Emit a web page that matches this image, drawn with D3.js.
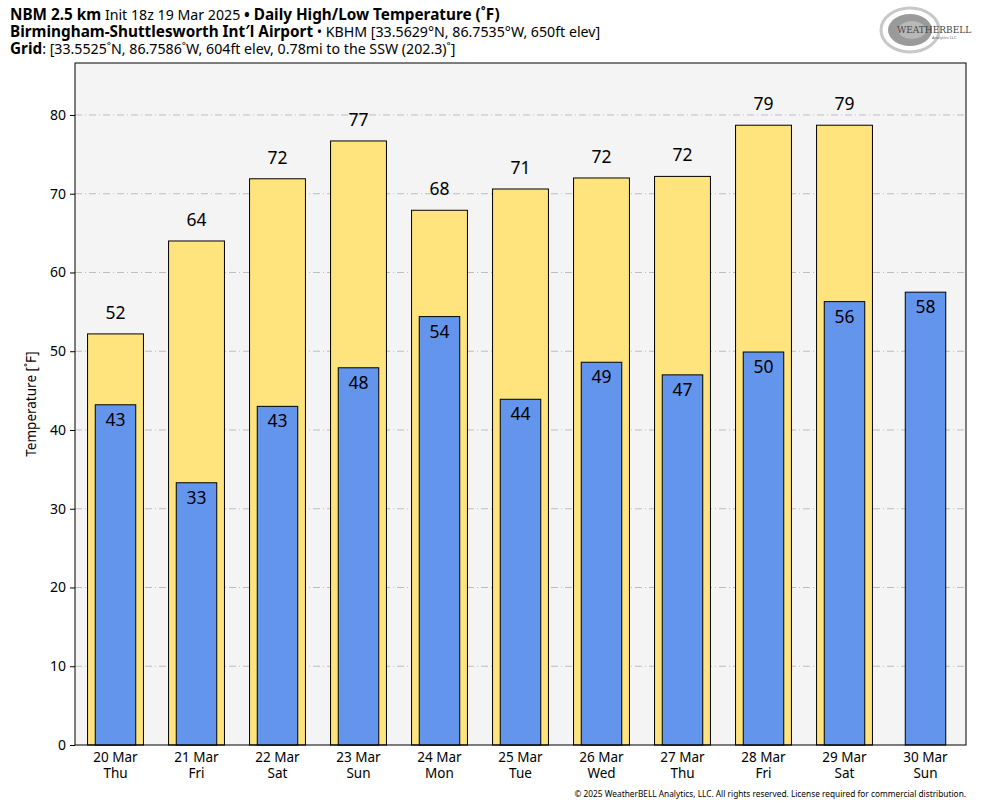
<!DOCTYPE html>
<html><head><meta charset="utf-8">
<script src="https://cdn.jsdelivr.net/npm/d3@7"></script>
<style>body{margin:0;background:#fff;} svg{display:block;font-family:"Noto Sans",sans-serif;}</style>
</head><body>
<script>
const dates = ["20 Mar","21 Mar","22 Mar","23 Mar","24 Mar","25 Mar","26 Mar","27 Mar","28 Mar","29 Mar","30 Mar"];
const days = ["Thu","Fri","Sat","Sun","Mon","Tue","Wed","Thu","Fri","Sat","Sun"];
const highs = [52.2, 64.0, 71.9, 76.7, 67.9, 70.6, 72.0, 72.2, 78.7, 78.7, null];
const lows = [43.2, 33.3, 43.0, 47.9, 54.4, 43.9, 48.6, 47.0, 49.9, 56.3, 57.5];
const yTicks = [0,10,20,30,40,50,60,70,80];

const W = 984, H = 808;
const m = {l:75, r:18, t:63, b:63};
const svg = d3.select("body").append("svg").attr("width",W).attr("height",H);

const x = d3.scaleBand().domain(d3.range(dates.length)).range([m.l, W-m.r]);
const y = d3.scaleLinear().domain([0, 86.6]).range([H-m.b, m.t]);

svg.append("rect").attr("x",m.l).attr("y",m.t).attr("width",W-m.l-m.r).attr("height",H-m.t-m.b).attr("fill","#f4f4f4");

// grid
svg.append("g").selectAll("line").data(yTicks.filter(d=>d>0)).join("line")
  .attr("x1",m.l).attr("x2",W-m.r).attr("y1",d=>y(d)).attr("y2",d=>y(d))
  .attr("stroke","#bdbdbd").attr("stroke-width",1).attr("stroke-dasharray","7,3,1,3");

const bw = x.bandwidth();
const hw = bw*0.69, lw = bw*0.5;
const hiData = highs.map((v,i)=>({v,i})).filter(d=>d.v!=null);
svg.append("g").selectAll("rect").data(hiData).join("rect")
  .attr("x",d=>x(d.i)+(bw-hw)/2).attr("width",hw)
  .attr("y",d=>y(d.v)).attr("height",d=>y(0)-y(d.v))
  .attr("fill","#ffe47e").attr("stroke","#000").attr("stroke-width",1);
svg.append("g").selectAll("text").data(hiData).join("text")
  .attr("x",d=>x(d.i)+bw/2).attr("y",d=>y(d.v)-15)
  .attr("text-anchor","middle").attr("font-size",17.5).attr("fill","#000")
  .text(d=>Math.round(d.v));

const loData = lows.map((v,i)=>({v,i}));
svg.append("g").selectAll("rect").data(loData).join("rect")
  .attr("x",d=>x(d.i)+(bw-lw)/2).attr("width",lw)
  .attr("y",d=>y(d.v)).attr("height",d=>y(0)-y(d.v))
  .attr("fill","#6495ed").attr("stroke","#000").attr("stroke-width",1);
svg.append("g").selectAll("text").data(loData).join("text")
  .attr("x",d=>x(d.i)+bw/2).attr("y",d=>y(d.v)+21)
  .attr("text-anchor","middle").attr("font-size",17.5).attr("fill","#000")
  .text(d=>Math.round(d.v));

// frame
svg.append("rect").attr("x",m.l).attr("y",m.t).attr("width",W-m.l-m.r).attr("height",H-m.t-m.b)
  .attr("fill","none").attr("stroke","#000").attr("stroke-width",1);

// y axis
const ya = svg.append("g").attr("transform",`translate(${m.l},0)`)
  .call(d3.axisLeft(y).tickValues(yTicks).tickSize(5).tickPadding(4));
ya.select(".domain").remove();
ya.selectAll("text").attr("font-size",14).attr("font-family","Noto Sans").attr("fill","#000");
ya.selectAll("line").attr("stroke","#000");

svg.append("text").attr("transform",`translate(36,${(m.t+H-m.b)/2}) rotate(-90)`)
  .attr("text-anchor","middle").attr("font-size",13.5).text("Temperature [˚F]");

// x labels
svg.append("g").selectAll("text").data(dates.map((d,i)=>i)).join("text")
  .attr("x",i=>x(i)+bw/2).attr("y",762).attr("text-anchor","middle").attr("font-size",13.5)
  .text(i=>dates[i]);
svg.append("g").selectAll("text").data(days.map((d,i)=>i)).join("text")
  .attr("x",i=>x(i)+bw/2).attr("y",778).attr("text-anchor","middle").attr("font-size",13.5)
  .text(i=>days[i]);

// titles
const t1 = svg.append("text").attr("x",10).attr("y",20).attr("font-size",15.3);
t1.append("tspan").attr("font-weight","bold").text("NBM 2.5 km");
t1.append("tspan").attr("font-size",14.2).text(" Init 18z 19 Mar 2025 ");
t1.append("tspan").attr("font-weight","bold").text("• Daily High/Low Temperature (˚F)");
const t2 = svg.append("text").attr("x",10).attr("y",37).attr("font-size",15.3);
t2.append("tspan").attr("font-weight","bold").text("Birmingham-Shuttlesworth Int′l Airport");
t2.append("tspan").attr("font-size",14.2).text(" • KBHM [33.5629°N, 86.7535°W, 650ft elev]");
const t3 = svg.append("text").attr("x",10).attr("y",54).attr("font-size",15.3);
t3.append("tspan").attr("font-weight","bold").text("Grid");
t3.append("tspan").attr("font-size",14.2).text(": [33.5525˚N, 86.7586˚W, 604ft elev, 0.78mi to the SSW (202.3)˚]");

// footer
svg.append("text").attr("x",966).attr("y",797).attr("text-anchor","end").attr("font-size",8.3)
  .text("© 2025 WeatherBELL Analytics, LLC. All rights reserved. License required for commercial distribution.");

// logo
const lg = svg.append("g").attr("transform","translate(910,30)");
lg.append("ellipse").attr("rx",29).attr("ry",22).attr("fill","none").attr("stroke","#c8c8c8").attr("stroke-width",3);
lg.append("ellipse").attr("rx",22).attr("ry",16).attr("fill","#9a9a9a");
lg.append("ellipse").attr("cx",2).attr("rx",14).attr("ry",9).attr("fill","#b8b8b8");
lg.append("text").attr("x",-13).attr("y",3).attr("font-size",9).attr("font-family","DejaVu Serif").attr("fill","#444").text("WEATHERBELL");
lg.append("text").attr("x",22).attr("y",9).attr("font-size",4).attr("fill","#666").text("Analytics LLC");
</script>
</body></html>
